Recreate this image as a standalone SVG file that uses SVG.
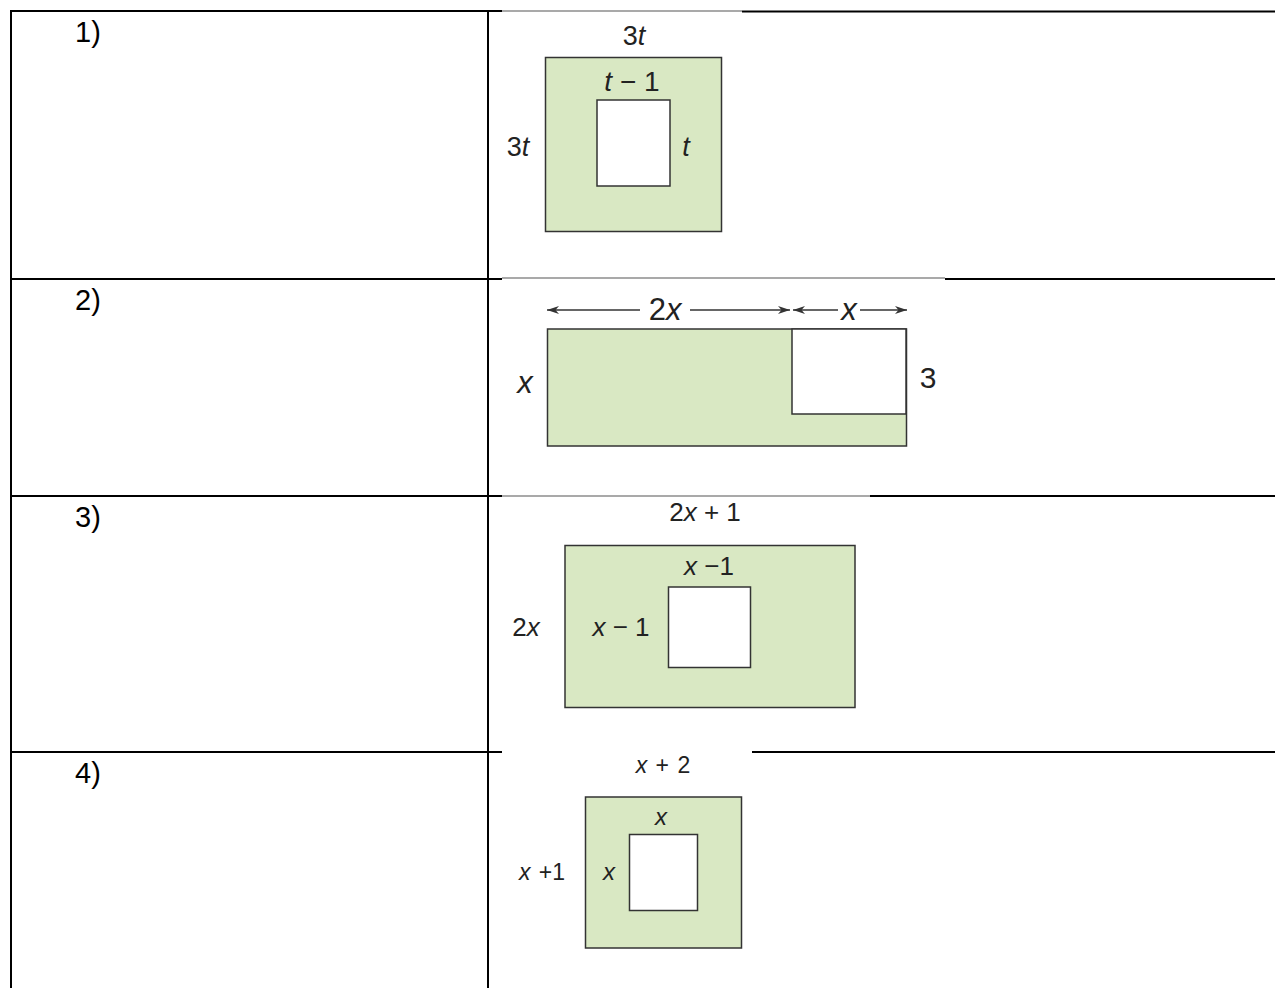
<svg xmlns="http://www.w3.org/2000/svg" width="1275" height="988" viewBox="0 0 1275 988">
<style>
.tb{stroke:#000;stroke-width:2;fill:none}
.tn{stroke:#555;stroke-width:1.2;fill:none}
.num{font-family:"Liberation Sans",Arial,sans-serif;font-size:29px;fill:#000}
.g{fill:#d9e8c3;stroke:#333;stroke-width:1.5}
.w{fill:#fff;stroke:#333;stroke-width:1.5}
.l{font-family:"Liberation Sans",Arial,sans-serif;fill:#222}
.i{font-style:italic}
</style>
<defs>
<marker id="ah" viewBox="0 0 12 10" refX="12" refY="5" markerWidth="13" markerHeight="10" markerUnits="userSpaceOnUse" orient="auto-start-reverse">
<path d="M0,1 L12,5 L0,9 L3.5,5 Z" fill="#333"/>
</marker>
</defs>
<g id="table">
<line class="tb" x1="11" y1="11" x2="502" y2="11"/>
<line class="tn" x1="502" y1="11" x2="742" y2="11"/>
<line class="tb" x1="742" y1="11.5" x2="1275" y2="11.5"/>
<line class="tb" x1="11" y1="279" x2="502" y2="279"/>
<line class="tn" x1="502" y1="278" x2="945" y2="278"/>
<line class="tb" x1="945" y1="279" x2="1275" y2="279"/>
<line class="tb" x1="11" y1="496" x2="502" y2="496"/>
<line class="tn" x1="502" y1="496" x2="870" y2="496"/>
<line class="tb" x1="870" y1="496" x2="1275" y2="496"/>
<line class="tb" x1="11" y1="752" x2="502" y2="752"/>
<line class="tb" x1="752" y1="752" x2="1275" y2="752"/>
<line class="tb" x1="11" y1="10" x2="11" y2="988"/>
<line class="tb" x1="488" y1="10" x2="488" y2="988"/>
<text class="num" x="75" y="42">1)</text>
<text class="num" x="75" y="310">2)</text>
<text class="num" x="75" y="527">3)</text>
<text class="num" x="75" y="783">4)</text>
</g>
<g id="fig1">
<rect class="g" x="545.5" y="57.5" width="176" height="174"/>
<rect class="w" x="597" y="100" width="73" height="86"/>
<text class="l" font-size="27" x="634" y="45" text-anchor="middle">3<tspan class="i">t</tspan></text>
<text class="l" font-size="28" x="632" y="91" text-anchor="middle"><tspan class="i">t</tspan> − 1</text>
<text class="l" font-size="27" x="518" y="156" text-anchor="middle">3<tspan class="i">t</tspan></text>
<text class="l i" font-size="27" x="686" y="156" text-anchor="middle">t</text>
</g>
<g id="fig2">
<rect class="g" x="547.5" y="329" width="359" height="117"/>
<rect class="w" x="792" y="329" width="114" height="85"/>
<text class="l" font-size="31" x="665" y="320" text-anchor="middle">2<tspan class="i">x</tspan></text>
<text class="l i" font-size="31" x="849" y="320" text-anchor="middle">x</text>
<text class="l i" font-size="31" x="525" y="393" text-anchor="middle">x</text>
<text class="l" font-size="30" x="928" y="388" text-anchor="middle">3</text>
</g>
<g id="connectors" stroke="#333" stroke-width="1.5" fill="none">
<line x1="547" y1="310" x2="640" y2="310" marker-start="url(#ah)"/>
<line x1="690" y1="310" x2="790" y2="310" marker-end="url(#ah)"/>
<line x1="793" y1="310" x2="838" y2="310" marker-start="url(#ah)"/>
<line x1="860" y1="310" x2="907" y2="310" marker-end="url(#ah)"/>
</g>
<g id="fig3">
<rect class="g" x="565" y="545.5" width="290" height="162"/>
<rect class="w" x="668.5" y="587" width="82" height="80.5"/>
<text class="l" font-size="26" x="705" y="521" text-anchor="middle">2<tspan class="i">x</tspan> + 1</text>
<text class="l" font-size="26" x="709" y="575" text-anchor="middle"><tspan class="i">x</tspan> −1</text>
<text class="l" font-size="26" x="526" y="636" text-anchor="middle">2<tspan class="i">x</tspan></text>
<text class="l" font-size="26" x="621" y="636" text-anchor="middle"><tspan class="i">x</tspan> − 1</text>
</g>
<g id="fig4">
<rect class="g" x="585.5" y="797" width="156" height="151"/>
<rect class="w" x="629.5" y="834.5" width="68" height="76"/>
<text class="l" font-size="23" x="663" y="773" text-anchor="middle" word-spacing="2"><tspan class="i">x</tspan> + 2</text>
<text class="l i" font-size="24" x="661" y="825" text-anchor="middle">x</text>
<text class="l" font-size="23" x="542" y="880" text-anchor="middle" word-spacing="2"><tspan class="i">x</tspan> +1</text>
<text class="l i" font-size="24" x="609" y="880" text-anchor="middle">x</text>
</g>
</svg>
